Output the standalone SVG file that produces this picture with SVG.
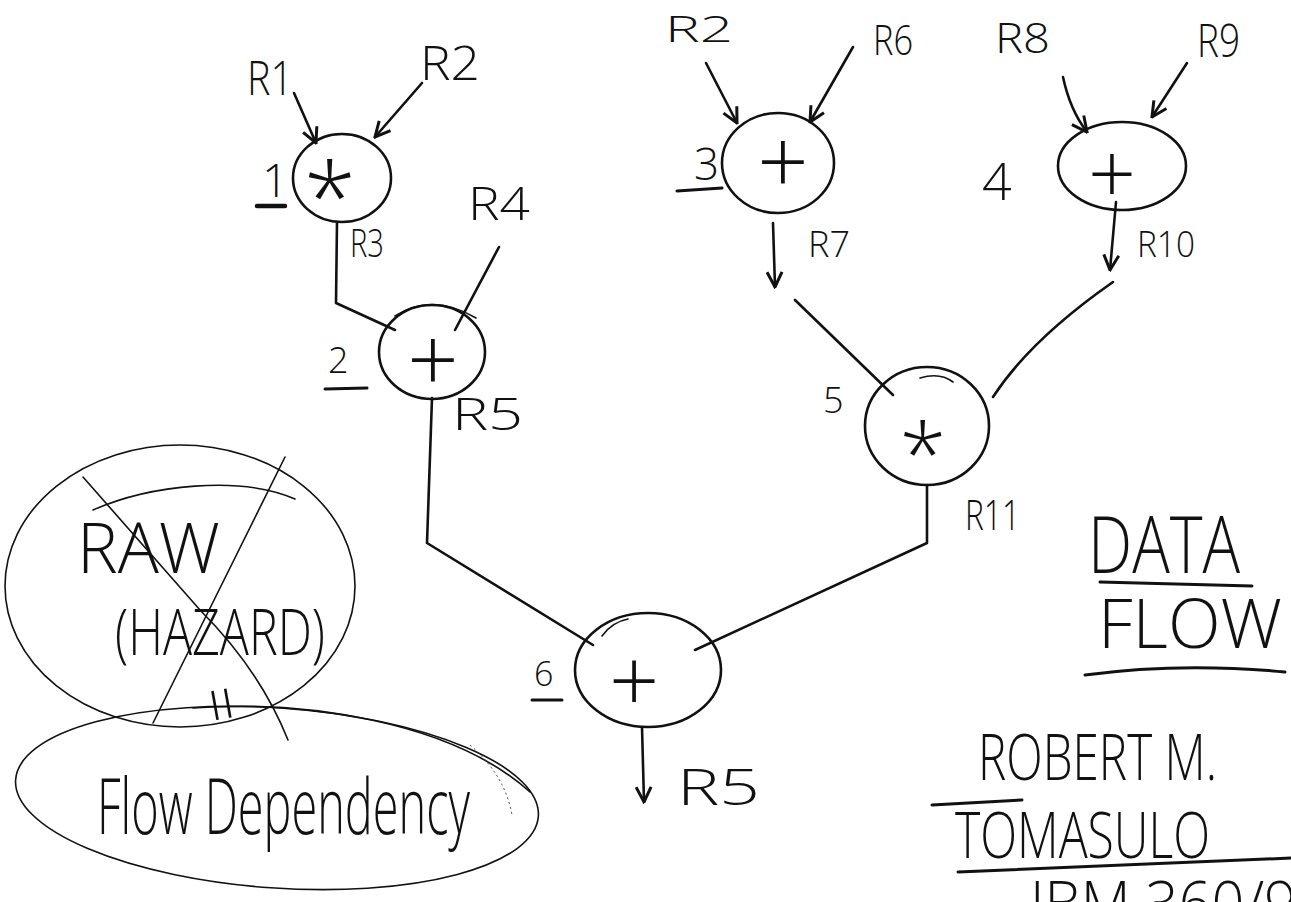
<svg xmlns="http://www.w3.org/2000/svg" width="1291" height="902" viewBox="0 0 1291 902">
<style>
.bg{fill:#fff}
.ln{fill:none;stroke:#111;stroke-width:2.6;stroke-linecap:round;stroke-linejoin:round}
.th{fill:none;stroke:#111;stroke-width:1.6;stroke-linecap:round}
.fa{fill:none;stroke:#444;stroke-width:1;stroke-dasharray:2 3}
.ul{fill:none;stroke:#111;stroke-width:3;stroke-linecap:round}
.node{fill:none;stroke:#111;stroke-width:2.6}
.t{font-family:"Open Sans","Liberation Sans",sans-serif;font-weight:300;fill:#111}
.op{font-family:"Open Sans","Liberation Sans",sans-serif;font-weight:300;fill:#111;text-anchor:middle}
</style>
<defs>
<marker id="ah" viewBox="0 0 12 12" refX="11" refY="6" markerWidth="18" markerHeight="18" markerUnits="userSpaceOnUse" orient="auto">
<path d="M1,1 L11,6 L1,11" fill="none" stroke="#111" stroke-width="2"/>
</marker>
</defs>
<rect class="bg" x="0" y="0" width="1291" height="902"/>

<g id="connectors">
<path class="ln" d="M294,93 L316,143" marker-end="url(#ah)"/>
<path class="ln" d="M422,83 L375,137" marker-end="url(#ah)"/>
<path class="ln" d="M337,222 L336,303 L395,330"/>
<path class="ln" d="M499,247 L455,330"/>
<path class="ln" d="M432,398 L427,543 L593,645"/>
<path class="ln" d="M706,63 L737,123" marker-end="url(#ah)"/>
<path class="ln" d="M853,47 L810,122" marker-end="url(#ah)"/>
<path class="ln" d="M1063,77 Q1070,110 1087,132" marker-end="url(#ah)"/>
<path class="ln" d="M1187,63 L1152,117" marker-end="url(#ah)"/>
<path class="ln" d="M773,223 L775,287" marker-end="url(#ah)"/>
<path class="ln" d="M1116,202 L1110,270" marker-end="url(#ah)"/>
<path class="ln" d="M795,300 L893,395"/>
<path class="ln" d="M1113,282 Q1030,340 993,397"/>
<path class="ln" d="M927,485 L927,543 L695,650"/>
<path class="ln" d="M642,727 L644,802" marker-end="url(#ah)"/>
</g>

<g id="labels">
<text class="t" x="247" y="95" font-size="48" textLength="46" lengthAdjust="spacingAndGlyphs">R1</text>
<text class="t" x="420" y="80" font-size="48" textLength="60" lengthAdjust="spacingAndGlyphs">R2</text>
<text class="t" x="350" y="257" font-size="38" textLength="34" lengthAdjust="spacingAndGlyphs">R3</text>
<text class="t" x="468" y="220" font-size="46" textLength="62" lengthAdjust="spacingAndGlyphs">R4</text>
<text class="t" x="452" y="430" font-size="44" textLength="71" lengthAdjust="spacingAndGlyphs">R5</text>
<text class="t" x="665" y="42" font-size="36" textLength="68" lengthAdjust="spacingAndGlyphs">R2</text>
<text class="t" x="873" y="55" font-size="42" textLength="40" lengthAdjust="spacingAndGlyphs">R6</text>
<text class="t" x="995" y="53" font-size="42" textLength="55" lengthAdjust="spacingAndGlyphs">R8</text>
<text class="t" x="1197" y="57" font-size="46" textLength="43" lengthAdjust="spacingAndGlyphs">R9</text>
<text class="t" x="808" y="257" font-size="36" textLength="42" lengthAdjust="spacingAndGlyphs">R7</text>
<text class="t" x="1137" y="257" font-size="36" textLength="58" lengthAdjust="spacingAndGlyphs">R10</text>
<text class="t" x="965" y="530" font-size="42" textLength="55" lengthAdjust="spacingAndGlyphs">R11</text>
<text class="t" x="677" y="805" font-size="50" textLength="83" lengthAdjust="spacingAndGlyphs">R5</text>
</g>

<g id="node1">
<ellipse class="node" cx="342" cy="178" rx="49" ry="44"/>
<text class="op" x="330" y="232" font-size="95">*</text>
<text class="t" x="262" y="197" font-size="46">1</text>
<path class="ul" d="M257,206 L285,206" style="stroke-width:4.5"/>
</g>

<g id="node2">
<ellipse class="node" cx="432" cy="352" rx="53" ry="47"/>
<path class="th" d="M395,316 Q432,292 476,318"/>
<text class="op" x="433" y="392" font-size="90">+</text>
<text class="t" x="328" y="373" font-size="36">2</text>
<path class="ul" d="M325,389 L367,388"/>
</g>

<g id="node3">
<ellipse class="node" cx="778" cy="163" rx="56" ry="50"/>
<text class="op" x="783" y="194" font-size="90">+</text>
<text class="t" x="694" y="180" font-size="44">3</text>
<path class="ul" d="M677,191 L722,188"/>
</g>

<g id="node4">
<ellipse class="node" cx="1122" cy="166" rx="64" ry="44"/>
<text class="op" x="1112" y="204" font-size="84">+</text>
<text class="t" x="982" y="200" font-size="52">4</text>
</g>

<g id="node5">
<ellipse class="node" cx="927" cy="426" rx="62" ry="59"/>
<path class="th" d="M920,378 Q940,372 953,382"/>
<text class="op" x="923" y="485" font-size="85">*</text>
<text class="t" x="823" y="413" font-size="36">5</text>
</g>

<g id="node6">
<ellipse class="node" cx="648" cy="670" rx="73" ry="57"/>
<path class="th" d="M602,636 Q612,622 628,619"/>
<text class="op" x="634" y="712" font-size="88">+</text>
<text class="t" x="534" y="686" font-size="34">6</text>
<path class="ul" d="M532,700 L562,700"/>
</g>

<g id="raw-note">
<ellipse class="th" cx="180" cy="586" rx="175" ry="141"/>
<path class="th" d="M93,510 C150,485 240,475 295,499"/>
<text class="t" x="77" y="573" font-size="70" textLength="143" lengthAdjust="spacingAndGlyphs">RAW</text>
<text class="t" x="115" y="655" font-size="64" textLength="210" lengthAdjust="spacingAndGlyphs">(HAZARD)</text>
<path class="th" d="M83,477 L200,610 Q260,670 288,740"/>
<path class="th" d="M285,457 L153,723"/>
<text class="t" x="218" y="724" font-size="64" text-anchor="middle" transform="rotate(80 218 705)">=</text>
</g>

<g id="flow-note">
<ellipse class="th" cx="277" cy="798" rx="262" ry="90" transform="rotate(4 277 798)"/>
<path class="th" d="M193,708 C300,700 450,720 530,792"/>
<path class="fa" d="M470,745 Q505,775 512,815"/>
<text class="t" x="97" y="834" font-size="78" textLength="373" lengthAdjust="spacingAndGlyphs">Flow Dependency</text>
</g>

<g id="title">
<text class="t" x="1088" y="573" font-size="80" textLength="152" lengthAdjust="spacingAndGlyphs">DATA</text>
<path class="ul" d="M1100,582 L1252,586"/>
<text class="t" x="1098" y="648" font-size="68" textLength="184" lengthAdjust="spacingAndGlyphs">FLOW</text>
<path class="ul" d="M1085,675 Q1180,662 1285,672"/>
</g>

<g id="author">
<text class="t" x="978" y="780" font-size="64" textLength="239" lengthAdjust="spacingAndGlyphs">ROBERT M.</text>
<path class="ul" d="M932,805 L1022,800"/>
<text class="t" x="955" y="858" font-size="64" textLength="255" lengthAdjust="spacingAndGlyphs">TOMASULO</text>
<path class="ul" d="M958,872 L1291,858"/>
<text class="t" x="1030" y="926" font-size="62" textLength="300" lengthAdjust="spacingAndGlyphs">IBM 360/91</text>
</g>
</svg>
